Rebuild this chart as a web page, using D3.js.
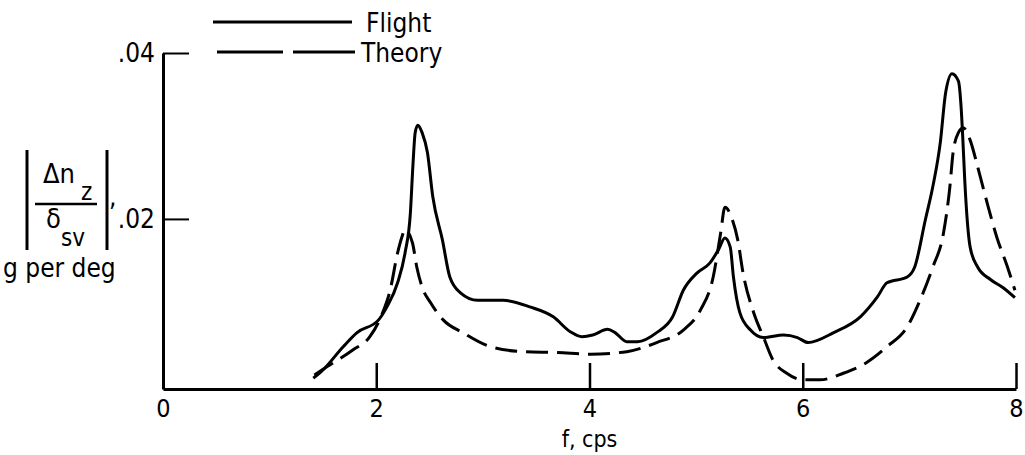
<!DOCTYPE html>
<html>
<head>
<meta charset="utf-8">
<script src="https://cdn.jsdelivr.net/npm/d3@7"></script>
<style>
  html, body { margin: 0; padding: 0; background: #fff; }
  svg text { font-family: "DejaVu Sans Condensed", "DejaVu Sans", sans-serif; fill: #000; }
</style>
</head>
<body>
<svg id="chart" width="1025" height="455"></svg>
<script>
// ---- Data ----
const flightF = [1.41,1.50,1.69,1.82,2.02,2.10,2.20,2.27,2.32,2.345,2.365,2.39,2.43,2.48,2.53,2.62,2.69,2.79,2.95,3.19,3.44,3.66,3.82,3.93,4.03,4.17,4.24,4.35,4.45,4.63,4.78,4.88,5.01,5.13,5.21,5.27,5.32,5.35,5.41,5.51,5.63,5.82,5.95,6.05,6.29,6.54,6.70,6.79,6.98,7.05,7.15,7.22,7.29,7.34,7.40,7.46,7.485,7.50,7.52,7.57,7.64,7.76,7.88,7.99];
const flightV = [0.0008,0.0018,0.0046,0.0063,0.0078,0.0094,0.0123,0.0159,0.0207,0.0267,0.0304,0.0313,0.0304,0.0280,0.0227,0.0175,0.0130,0.0111,0.0102,0.0102,0.0094,0.0082,0.0064,0.0058,0.0060,0.0067,0.0063,0.0052,0.0052,0.0063,0.0082,0.0114,0.0135,0.0147,0.0163,0.0177,0.0166,0.0130,0.0087,0.0066,0.0057,0.0060,0.0057,0.0051,0.0063,0.0082,0.0106,0.0123,0.0130,0.0142,0.0199,0.0239,0.0292,0.0352,0.0375,0.0366,0.0335,0.0300,0.0245,0.0166,0.0142,0.0127,0.0117,0.0105];
const theoryF = [1.42,1.54,1.78,1.94,2.06,2.13,2.20,2.24,2.27,2.34,2.38,2.43,2.51,2.63,2.81,3.07,3.38,3.70,4.01,4.35,4.63,4.88,5.04,5.16,5.23,5.27,5.34,5.39,5.44,5.54,5.63,5.72,5.85,6.00,6.16,6.38,6.60,6.79,6.98,7.10,7.22,7.32,7.38,7.41,7.46,7.505,7.57,7.64,7.73,7.82,7.92,7.99];
const theoryV = [0.0012,0.0022,0.0042,0.0058,0.0087,0.0114,0.0159,0.0178,0.0187,0.0171,0.0142,0.0118,0.0099,0.0078,0.0063,0.0046,0.0040,0.0039,0.0037,0.0040,0.0051,0.0066,0.0090,0.0130,0.0183,0.0214,0.0199,0.0175,0.0135,0.0087,0.0058,0.0030,0.0014,0.0006,0.0006,0.0014,0.0027,0.0046,0.0070,0.0102,0.0142,0.0183,0.0239,0.0280,0.0304,0.0310,0.0295,0.0263,0.0219,0.0178,0.0142,0.0114];
const xTicks = [0, 2, 4, 6, 8];
const xTickLabels = ["0", "2", "4", "6", "8"];
const yTicks = [0.02, 0.04];
const yTickLabels = [".02", ".04"];
const seriesNames = ["Flight", "Theory"];

// ---- Scales ----
const svg = d3.select("#chart");
const x = d3.scaleLinear().domain([0, 8]).range([163, 1016]);
const y = d3.scaleLinear().domain([-0.0005, 0.04]).range([389, 53]);

const FS = 26;

// ---- Axes ----
const xAxis = d3.axisBottom(x)
  .tickValues(xTicks)
  .tickFormat((d, i) => xTickLabels[i])
  .tickSizeInner(-26).tickSizeOuter(0).tickPadding(10);
const gx = svg.append("g").attr("transform", `translate(0,${y.range()[0]})`).call(xAxis);
gx.selectAll(".tick line").attr("stroke-width", 2.5).filter(d => d === 0).remove();
gx.select(".domain").attr("stroke-width", 3);
gx.selectAll("text").attr("font-size", 25).attr("font-family", "DejaVu Sans Condensed");

const yAxis = d3.axisLeft(y)
  .tickValues(yTicks)
  .tickFormat((d, i) => yTickLabels[i])
  .tickSizeInner(-26).tickSizeOuter(0).tickPadding(8);
const gy = svg.append("g").attr("transform", `translate(${x.range()[0]},0)`).call(yAxis);
gy.selectAll(".tick line").attr("stroke-width", 2);
gy.select(".domain").attr("stroke-width", 3);
gy.selectAll("text").attr("font-size", FS).attr("font-family", "DejaVu Sans Condensed");

// axis title
svg.append("text").attr("x", x(4)).attr("y", 447).attr("text-anchor", "middle")
  .attr("font-size", 23).text("f, cps");

// y label: |Δn_z / δ_sv|, g per deg
const yl = svg.append("g");
yl.append("line").attr("x1", 27).attr("x2", 27).attr("y1", 150).attr("y2", 250).attr("stroke", "#000").attr("stroke-width", 3);
yl.append("line").attr("x1", 107).attr("x2", 107).attr("y1", 150).attr("y2", 250).attr("stroke", "#000").attr("stroke-width", 3);
yl.append("line").attr("x1", 35).attr("x2", 97).attr("y1", 204).attr("y2", 204).attr("stroke", "#000").attr("stroke-width", 2.5);
yl.append("text").attr("x", 43).attr("y", 183).attr("font-size", 27).text("Δn");
yl.append("text").attr("x", 81).attr("y", 200).attr("font-size", 24).text("z");
yl.append("text").attr("x", 46).attr("y", 228).attr("font-size", 27).text("δ");
yl.append("text").attr("x", 61).attr("y", 246).attr("font-size", 24).text("sv");
yl.append("text").attr("x", 109).attr("y", 206).attr("font-size", FS).text(",");
yl.append("text").attr("x", 3).attr("y", 277).attr("font-size", FS).text("g per deg");

// ---- Lines ----
const line = d3.line().x(d => x(d[0])).y(d => y(d[1])).curve(d3.curveMonotoneX);
const flight = flightF.map((f, i) => [f, flightV[i]]);
const theory = theoryF.map((f, i) => [f, theoryV[i]]);

svg.append("path").datum(flight).attr("d", line)
  .attr("fill", "none").attr("stroke", "#000").attr("stroke-width", 3).attr("stroke-linejoin", "round");
svg.append("path").datum(theory).attr("d", line)
  .attr("fill", "none").attr("stroke", "#000").attr("stroke-width", 3).attr("stroke-dasharray", "22,9");

// ---- Legend ----
const lg = svg.append("g");
lg.append("line").attr("x1", 213).attr("x2", 352).attr("y1", 22).attr("y2", 22)
  .attr("stroke", "#000").attr("stroke-width", 3);
lg.append("text").attr("x", 366).attr("y", 32).attr("font-size", FS).text(seriesNames[0]);
lg.append("line").attr("x1", 217).attr("x2", 355).attr("y1", 52).attr("y2", 52)
  .attr("stroke", "#000").attr("stroke-width", 3).attr("stroke-dasharray", "66,10");
lg.append("text").attr("x", 361).attr("y", 62).attr("font-size", FS).text(seriesNames[1]);
</script>
</body>
</html>
